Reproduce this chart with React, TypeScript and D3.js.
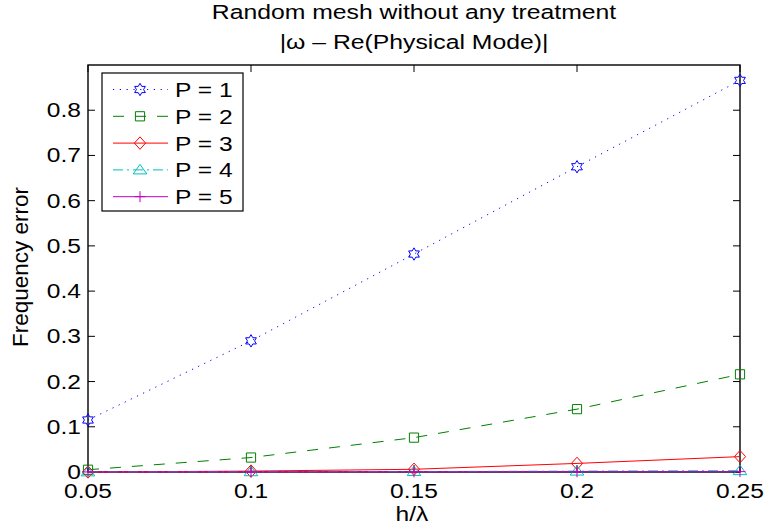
import React from 'react';
import * as d3 from 'd3';

const hOverLambda = [0.05, 0.1, 0.15, 0.2, 0.25];
const errP1 = [0.115, 0.29, 0.482, 0.675, 0.866];
const errP2 = [0.005, 0.032, 0.076, 0.139, 0.216];
const errP3 = [0.0, 0.002, 0.006, 0.019, 0.034];
const errP4 = [0.0003, 0.0006, 0.001, 0.002, 0.003];
const errP5 = [0.0001, 0.0002, 0.0003, 0.0005, 0.0008];
const seriesNames = ['P = 1', 'P = 2', 'P = 3', 'P = 4', 'P = 5'];
const xTicks = [0.05, 0.1, 0.15, 0.2, 0.25];
const xTickLabels = ['0.05', '0.1', '0.15', '0.2', '0.25'];
const yTicks = [0, 0.1, 0.2, 0.3, 0.4, 0.5, 0.6, 0.7, 0.8];
const yTickLabels = ['0', '0.1', '0.2', '0.3', '0.4', '0.5', '0.6', '0.7', '0.8'];

const W = 767;
const H = 529;
const left = 88, right = 740, top = 65, bottom = 472;
const FONT = '"Liberation Sans", Arial, Helvetica, sans-serif';
const SX = 1.17; // text in the reference is a bit wider than Arial

// marker paths centred on 0,0
function hexagram(r: number) {
  const pts: string[] = [];
  for (let i = 0; i < 12; i++) {
    const a = -Math.PI / 2 + (i * Math.PI) / 6;
    const rr = i % 2 === 0 ? r : r / Math.sqrt(3);
    pts.push(`${(rr * Math.cos(a)).toFixed(2)},${(rr * Math.sin(a)).toFixed(2)}`);
  }
  return 'M' + pts.join('L') + 'Z';
}
const markerPath: Record<string, string> = {
  hexagram: hexagram(6.2),
  square: 'M-4.6,-4.6H4.6V4.6H-4.6Z',
  diamond: 'M0,-6.2L5.6,0L0,6.2L-5.6,0Z',
  triangle: 'M0,-5.5L6.8,4L-6.8,4Z',
  plus: 'M-5.5,0H5.5M0,-5.5V5.5',
};

const series = [
  { name: seriesNames[0], values: errP1, color: '#0000ff', dash: '1.2 5.6', marker: 'hexagram' },
  { name: seriesNames[1], values: errP2, color: '#008000', dash: '11 11', marker: 'square' },
  { name: seriesNames[2], values: errP3, color: '#ff0000', dash: '', marker: 'diamond' },
  { name: seriesNames[3], values: errP4, color: '#00bfbf', dash: '10 4 2 4', marker: 'triangle' },
  { name: seriesNames[4], values: errP5, color: '#bf00bf', dash: '', marker: 'plus' },
];

function T({ x, y, size, anchor = 'start', sx = SX, children }: any) {
  return (
    <text
      transform={`translate(${x},${y}) scale(${sx},1)`}
      fontSize={size}
      fontFamily={FONT}
      textAnchor={anchor}
      fill="#000"
    >
      {children}
    </text>
  );
}

export default function App() {
  const x = d3.scaleLinear().domain([0.05, 0.25]).range([left, right]);
  const y = d3.scaleLinear().domain([0, 0.9]).range([bottom, top]);
  const line = d3
    .line<number>()
    .x((_, i) => x(hOverLambda[i]))
    .y(d => y(d));

  const tickLen = 7;
  const legX = 102, legY = 73, legW = 141, legH = 138;
  const rowGap = 26.8;

  return (
    <svg width={W} height={H} style={{ position: 'absolute', left: 0, top: 0, background: '#fff' }}>
      <rect x={0} y={0} width={W} height={H} fill="#fff" />

      {/* titles */}
      <T x={414} y={19} size={19.5} anchor="middle" sx={1.27}>Random mesh without any treatment</T>
      <T x={414} y={49} size={19.5} anchor="middle" sx={1.27}>|ω – Re(Physical Mode)|</T>

      {/* axes box */}
      <rect x={left} y={top} width={right - left} height={bottom - top} fill="none" stroke="#000" strokeWidth={1.4} />

      {/* ticks */}
      {xTicks.map((t, i) => (
        <g key={'xt' + i}>
          <line x1={x(t)} x2={x(t)} y1={bottom} y2={bottom - tickLen} stroke="#000" />
          <line x1={x(t)} x2={x(t)} y1={top} y2={top + tickLen} stroke="#000" />
          <T x={x(t)} y={498} size={21} anchor="middle">{xTickLabels[i]}</T>
        </g>
      ))}
      {yTicks.map((t, i) => (
        <g key={'yt' + i}>
          <line x1={left} x2={left + tickLen} y1={y(t)} y2={y(t)} stroke="#000" />
          <line x1={right} x2={right - tickLen} y1={y(t)} y2={y(t)} stroke="#000" />
          <T x={81} y={y(t) + 7} size={21} anchor="end">{yTickLabels[i]}</T>
        </g>
      ))}

      {/* axis labels */}
      <T x={412} y={521} size={21} anchor="middle">h/λ</T>
      <text
        transform={`translate(28,267) rotate(-90)`}
        fontSize={22.5}
        fontFamily={FONT}
        textAnchor="middle"
        fill="#000"
      >
        Frequency error
      </text>

      {/* series */}
      {series.map(s => (
        <g key={s.name}>
          <path d={line(s.values) || ''} fill="none" stroke={s.color} strokeWidth={1} strokeDasharray={s.dash || undefined} />
          {s.values.map((v, i) => (
            <path
              key={i}
              d={markerPath[s.marker]}
              transform={`translate(${x(hOverLambda[i])},${y(v)})`}
              fill="none"
              stroke={s.color}
              strokeWidth={1}
            />
          ))}
        </g>
      ))}

      {/* legend */}
      <rect x={legX} y={legY} width={legW} height={legH} fill="#fff" stroke="#000" strokeWidth={1.2} />
      {series.map((s, i) => {
        const ry = legY + 16.5 + i * rowGap;
        return (
          <g key={'lg' + i}>
            <line x1={113} x2={168} y1={ry} y2={ry} stroke={s.color} strokeWidth={1} strokeDasharray={s.dash || undefined} />
            <path d={markerPath[s.marker]} transform={`translate(140,${ry})`} fill="none" stroke={s.color} strokeWidth={1} />
            <T x={175} y={ry + 7.5} size={21}>{s.name}</T>
          </g>
        );
      })}
    </svg>
  );
}
